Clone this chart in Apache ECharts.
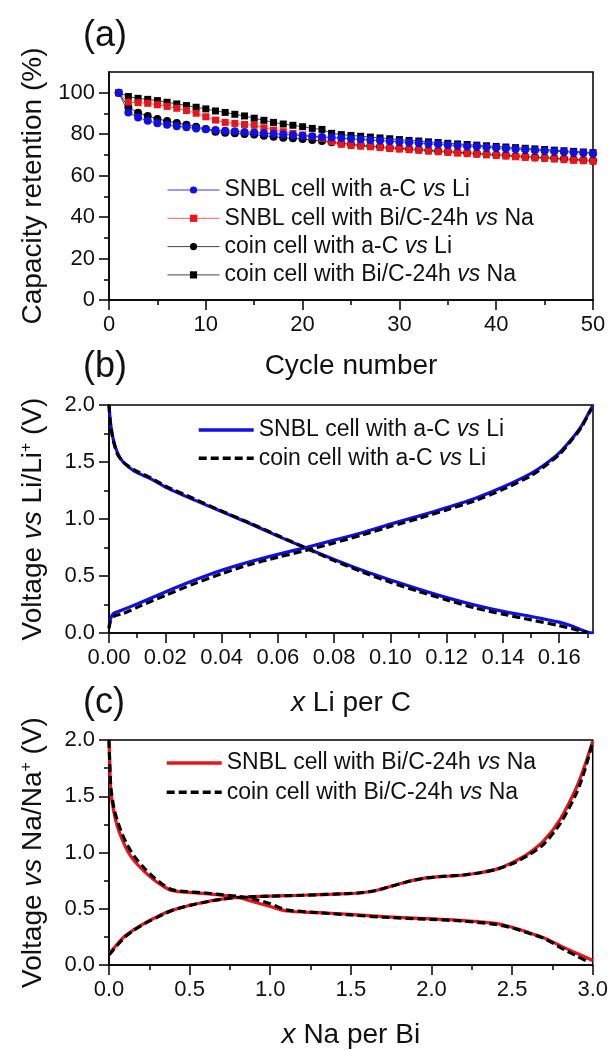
<!DOCTYPE html>
<html>
<head>
<meta charset="utf-8">
<script src="https://cdn.jsdelivr.net/npm/echarts@6/dist/echarts.min.js"></script>
<style>
  html, body { margin: 0; background: #fff; }
  #main { width: 611px; height: 1050px; }
</style>
</head>
<body>
<div id="main"></div>
<script>
// (a) capacity retention (%) per cycle, cycles 1..50
var snblLi = [100, 90.5, 88.0, 86.5, 85.3, 84.5, 83.8, 83.3, 82.8, 82.4,
  82.0, 81.7, 81.4, 81.1, 80.8, 80.5, 80.2, 79.9, 79.6, 79.3,
  79.0, 78.7, 78.4, 78.1, 77.8, 77.5, 77.2, 76.9, 76.6, 76.3,
  76.0, 75.7, 75.4, 75.1, 74.8, 74.5, 74.2, 74.0, 73.7, 73.4,
  73.1, 72.8, 72.6, 72.3, 72.0, 71.8, 71.5, 71.2, 71.0, 70.7];
var snblNa = [100, 95.5, 95.2, 94.9, 94.2, 93.4, 92.5, 91.4, 90.1, 88.4,
  86.8, 85.7, 85.2, 84.7, 84.3, 83.1, 82.0, 81.2, 80.4, 79.6,
  78.8, 78.0, 76.4, 75.1, 74.5, 74.2, 73.9, 73.5, 73.1, 72.8,
  72.5, 72.2, 71.8, 71.5, 71.2, 70.9, 70.6, 70.3, 70.0, 69.7,
  69.4, 69.1, 68.8, 68.5, 68.3, 68.0, 67.7, 67.4, 67.2, 66.9];
var coinLi = [100, 93.0, 90.4, 88.8, 87.3, 86.4, 85.4, 84.6, 83.6, 82.5,
  81.2, 80.7, 80.4, 80.1, 79.8, 79.3, 78.8, 78.3, 78.0, 77.7,
  77.2, 76.7, 76.1, 75.6, 75.1, 74.6, 74.3, 73.9, 73.5, 73.2,
  72.9, 72.6, 72.2, 71.9, 71.6, 71.3, 71.0, 70.7, 70.4, 70.1,
  69.8, 69.5, 69.2, 68.9, 68.7, 68.4, 68.1, 67.8, 67.6, 67.3];
var coinNa = [100, 98.2, 97.3, 96.8, 96.2, 95.4, 94.6, 93.8, 93.0, 92.2,
  91.2, 90.5, 89.6, 88.8, 87.7, 86.7, 85.7, 84.9, 84.3, 83.6,
  82.8, 82.3, 80.4, 79.8, 79.4, 79.0, 78.6, 78.2, 77.8, 77.4,
  77.0, 76.7, 76.3, 76.0, 75.6, 75.3, 75.0, 74.7, 74.4, 74.1,
  73.8, 73.5, 73.2, 72.9, 72.6, 72.3, 72.0, 71.7, 71.4, 71.1];

// (b) voltage vs Li/Li+ against x Li per C  [x, V]
var snblLiDis = [[0, 2.0], [0.0005, 1.85], [0.0015, 1.70], [0.003, 1.58], [0.005, 1.50], [0.009, 1.42],
  [0.015, 1.35], [0.02, 1.28], [0.03, 1.17], [0.04, 1.065], [0.05, 0.96], [0.06, 0.85], [0.07, 0.745],
  [0.08, 0.645], [0.09, 0.55], [0.10, 0.465], [0.11, 0.385], [0.12, 0.31], [0.13, 0.245], [0.14, 0.19],
  [0.15, 0.145], [0.16, 0.095], [0.164, 0.065], [0.1675, 0.03], [0.1705, 0.005], [0.172, 0]];
var snblLiCha = [[0, 0.05], [0.0005, 0.12], [0.0015, 0.17], [0.004, 0.195], [0.01, 0.255], [0.02, 0.36],
  [0.03, 0.46], [0.04, 0.55], [0.05, 0.625], [0.06, 0.69], [0.07, 0.75], [0.08, 0.815], [0.09, 0.88],
  [0.10, 0.955], [0.11, 1.025], [0.12, 1.10], [0.13, 1.18], [0.14, 1.28], [0.15, 1.40], [0.155, 1.48],
  [0.16, 1.58], [0.165, 1.72], [0.168, 1.82], [0.172, 2.0]];
var coinLiDis = [[0, 2.0], [0.0005, 1.84], [0.0015, 1.69], [0.003, 1.57], [0.005, 1.50], [0.009, 1.43],
  [0.015, 1.36], [0.02, 1.29], [0.03, 1.18], [0.04, 1.07], [0.05, 0.965], [0.06, 0.855], [0.07, 0.745],
  [0.08, 0.635], [0.09, 0.535], [0.10, 0.445], [0.11, 0.365], [0.12, 0.29], [0.13, 0.22], [0.14, 0.165],
  [0.15, 0.115], [0.16, 0.065], [0.165, 0.035], [0.17, 0.005]];
var coinLiCha = [[0, 0.04], [0.0005, 0.10], [0.002, 0.15], [0.005, 0.17], [0.01, 0.225], [0.02, 0.33],
  [0.03, 0.43], [0.04, 0.52], [0.05, 0.60], [0.06, 0.665], [0.07, 0.725], [0.08, 0.79], [0.09, 0.86],
  [0.10, 0.935], [0.11, 1.005], [0.12, 1.08], [0.13, 1.16], [0.14, 1.26], [0.15, 1.38], [0.155, 1.465],
  [0.16, 1.565], [0.165, 1.71], [0.168, 1.81], [0.1715, 1.97]];

// (c) voltage vs Na/Na+ against x Na per Bi  [x, V]
var snblNaDis = [[0, 2.0], [0.005, 1.75], [0.012, 1.53], [0.03, 1.36], [0.05, 1.24], [0.08, 1.12],
  [0.12, 1.0], [0.16, 0.92], [0.22, 0.83], [0.28, 0.755], [0.33, 0.705], [0.38, 0.665], [0.42, 0.655],
  [0.5, 0.645], [0.6, 0.635], [0.7, 0.62], [0.8, 0.60], [0.9, 0.56], [1.0, 0.52], [1.1, 0.48],
  [1.3, 0.465], [1.5, 0.45], [1.7, 0.43], [2.0, 0.41], [2.2, 0.395], [2.4, 0.37], [2.5, 0.335],
  [2.6, 0.29], [2.7, 0.24], [2.8, 0.17], [2.9, 0.105], [3.0, 0.04]];
var snblNaCha = [[0, 0.1], [0.03, 0.15], [0.06, 0.2], [0.1, 0.26], [0.15, 0.31], [0.2, 0.355],
  [0.25, 0.395], [0.3, 0.43], [0.35, 0.465], [0.4, 0.49], [0.5, 0.53], [0.6, 0.56], [0.7, 0.585],
  [0.8, 0.6], [0.9, 0.607], [1.0, 0.612], [1.2, 0.62], [1.4, 0.63], [1.55, 0.64], [1.65, 0.66],
  [1.75, 0.70], [1.85, 0.74], [1.95, 0.77], [2.05, 0.785], [2.2, 0.80], [2.3, 0.82], [2.4, 0.85],
  [2.5, 0.91], [2.6, 0.99], [2.7, 1.11], [2.8, 1.30], [2.9, 1.58], [2.95, 1.77], [3.0, 1.99]];
var coinNaDis = [[0, 2.0], [0.005, 1.78], [0.012, 1.57], [0.03, 1.40], [0.05, 1.29], [0.08, 1.17],
  [0.12, 1.05], [0.16, 0.96], [0.22, 0.86], [0.28, 0.775], [0.33, 0.72], [0.38, 0.675], [0.42, 0.66],
  [0.5, 0.65], [0.6, 0.64], [0.7, 0.625], [0.8, 0.61], [0.9, 0.585], [1.0, 0.545], [1.1, 0.49],
  [1.3, 0.465], [1.5, 0.445], [1.7, 0.425], [2.0, 0.405], [2.2, 0.39], [2.4, 0.36], [2.5, 0.33],
  [2.6, 0.285], [2.7, 0.235], [2.8, 0.155], [2.9, 0.08], [2.97, 0.03]];
var coinNaCha = [[0, 0.09], [0.03, 0.14], [0.06, 0.19], [0.1, 0.25], [0.15, 0.305], [0.2, 0.35],
  [0.25, 0.39], [0.3, 0.425], [0.35, 0.46], [0.4, 0.49], [0.5, 0.53], [0.6, 0.56], [0.7, 0.585],
  [0.8, 0.6], [0.9, 0.607], [1.0, 0.612], [1.2, 0.62], [1.4, 0.63], [1.55, 0.64], [1.65, 0.66],
  [1.75, 0.70], [1.85, 0.74], [1.95, 0.77], [2.05, 0.785], [2.2, 0.80], [2.3, 0.82], [2.4, 0.85],
  [2.5, 0.90], [2.6, 0.975], [2.7, 1.08], [2.8, 1.26], [2.9, 1.53], [2.95, 1.73], [3.0, 1.98]];

// tick label values
var ticksA = [0, 20, 40, 60, 80, 100];
var ticksB = [0, 0.02, 0.04, 0.06, 0.08, 0.10, 0.12, 0.14, 0.16];

var FONT = '"Liberation Sans", Arial, sans-serif';
var BLUE = '#1010e6';
var RED = '#ec1418';

// legend labels (rich text for the italic "vs")
var labels = {
  a1: 'SNBL cell with a-C {i|vs} Li',
  a2: 'SNBL cell with Bi/C-24h {i|vs} Na',
  a3: 'coin cell with a-C {i|vs} Li',
  a4: 'coin cell with Bi/C-24h {i|vs} Na',
  b1: 'SNBL cell with a-C {i|vs} Li',
  b2: 'coin cell with a-C {i|vs} Li',
  c1: 'SNBL cell with Bi/C-24h {i|vs} Na',
  c2: 'coin cell with Bi/C-24h {i|vs} Na'
};

function withCycles(arr) {
  return arr.map(function (v, i) { return [i + 1, v]; });
}

function axis(gridIndex, o) {
  var a = {
    type: 'value',
    gridIndex: gridIndex,
    min: o.min, max: o.max, interval: o.interval,
    name: o.name,
    nameLocation: 'middle',
    nameGap: o.nameGap,
    nameTextStyle: { fontSize: 28, fontFamily: FONT, color: '#111', rich: {
      i: { fontStyle: 'italic', fontSize: 28, fontFamily: FONT, color: '#111' },
      s: { fontSize: 16, fontFamily: FONT, color: '#111', verticalAlign: 'top' }
    } },
    axisLine: { show: true, onZero: false, lineStyle: { color: '#000', width: 1.5 } },
    axisTick: { show: true, inside: false, length: 10, lineStyle: { color: '#000', width: 1.5 } },
    minorTick: { show: true, splitNumber: 2, length: 5, lineStyle: { color: '#000', width: 1.5 } },
    splitLine: { show: false },
    axisLabel: { fontSize: 22, fontFamily: FONT, color: '#111', margin: 14, formatter: o.fmt }
  };
  if (o.custom) {
    a.axisTick.customValues = o.custom;
    a.axisLabel.customValues = o.custom;
  }
  return a;
}

function curve(name, data, color, dashed, xi) {
  return {
    name: name, type: 'line', xAxisIndex: xi, yAxisIndex: xi,
    data: data, showSymbol: false, symbol: 'none', smooth: 0.25,
    lineStyle: { color: color, width: 3.2, type: dashed ? [8, 4] : 'solid' },
    itemStyle: { color: color },
    z: dashed ? 4 : 3
  };
}

function scatterLine(name, arr, color, lineColor, symbol, size) {
  return {
    name: name, type: 'line', xAxisIndex: 0, yAxisIndex: 0,
    data: withCycles(arr), symbol: symbol, symbolSize: size, showSymbol: true,
    lineStyle: { color: lineColor, width: 1 },
    itemStyle: { color: color }
  };
}

// itemHeight tiny for the voltage legends so only the (dashed) line shows
function legend(names, left, top, itemWidth, itemHeight, gap, lineWidth) {
  return {
    data: names, orient: 'vertical', left: left, top: top, padding: 0,
    itemWidth: itemWidth, itemHeight: itemHeight, itemGap: gap,
    selectedMode: false,
    lineStyle: { width: lineWidth },
    formatter: function (n) { return labels[n]; },
    textStyle: { fontSize: 23, fontFamily: FONT, color: '#111', lineHeight: 24, rich: {
      i: { fontStyle: 'italic', fontSize: 23, fontFamily: FONT, color: '#111' }
    } }
  };
}

var titleStyle = { fontSize: 36, fontWeight: 'normal', fontFamily: FONT, color: '#111' };

var myChart = echarts.init(document.getElementById('main'));

var option = {
  animation: false,
  backgroundColor: '#fff',
  title: [
    { text: '(a)', left: 83, top: 18, padding: 0, textStyle: titleStyle },
    { text: '(b)', left: 83, top: 349, padding: 0, textStyle: titleStyle },
    { text: '(c)', left: 83, top: 685, padding: 0, textStyle: titleStyle }
  ],
  grid: [
    { left: 109, top: 72, width: 484, height: 228, show: true, borderColor: '#000', borderWidth: 1.5 },
    { left: 109, top: 405, width: 484, height: 228, show: true, borderColor: '#000', borderWidth: 1.5 },
    { left: 109, top: 740, width: 485, height: 228, show: true, borderColor: '#000', borderWidth: 1.5 }
  ],
  legend: [
    legend(['a1', 'a2', 'a3', 'a4'], 167, 178, 52, 9, 4.3, 1),
    legend(['b1', 'b2'], 197, 418, 55, 1, 4.3, 3.4),
    legend(['c1', 'c2'], 165, 751, 55, 1, 5.3, 3.4)
  ],
  xAxis: [
    axis(0, { min: 0, max: 50, interval: 10, name: 'Cycle number', nameGap: 52 }),
    axis(1, { min: 0, max: 0.172, interval: 0.02, name: '{i|x} Li per C', nameGap: 56, custom: ticksB,
      fmt: function (v) { return v.toFixed(2); } }),
    axis(2, { min: 0, max: 3, interval: 0.5, name: '{i|x} Na per Bi', nameGap: 56,
      fmt: function (v) { return v.toFixed(1); } })
  ],
  yAxis: [
    axis(0, { min: 0, max: 110, interval: 20, name: 'Capacity retention (%)', nameGap: 62, custom: ticksA }),
    axis(1, { min: 0, max: 2, interval: 0.5, name: 'Voltage {i|vs} Li/Li{s|+} (V)', nameGap: 62,
      fmt: function (v) { return v.toFixed(1); } }),
    axis(2, { min: 0, max: 2, interval: 0.5, name: 'Voltage {i|vs} Na/Na{s|+} (V)', nameGap: 62,
      fmt: function (v) { return v.toFixed(1); } })
  ],
  series: [
    scatterLine('a3', coinLi, '#000', '#444', 'circle', 8),
    scatterLine('a4', coinNa, '#000', '#444', 'rect', 7),
    scatterLine('a2', snblNa, RED, '#f06060', 'rect', 7),
    scatterLine('a1', snblLi, BLUE, '#3a3ad8', 'circle', 8),
    curve('b1', snblLiDis, BLUE, false, 1),
    curve('b1', snblLiCha, BLUE, false, 1),
    curve('b2', coinLiDis, '#000', true, 1),
    curve('b2', coinLiCha, '#000', true, 1),
    curve('c1', snblNaDis, RED, false, 2),
    curve('c1', snblNaCha, RED, false, 2),
    curve('c2', coinNaDis, '#000', true, 2),
    curve('c2', coinNaCha, '#000', true, 2)
  ]
};

myChart.setOption(option);
</script>
</body>
</html>
